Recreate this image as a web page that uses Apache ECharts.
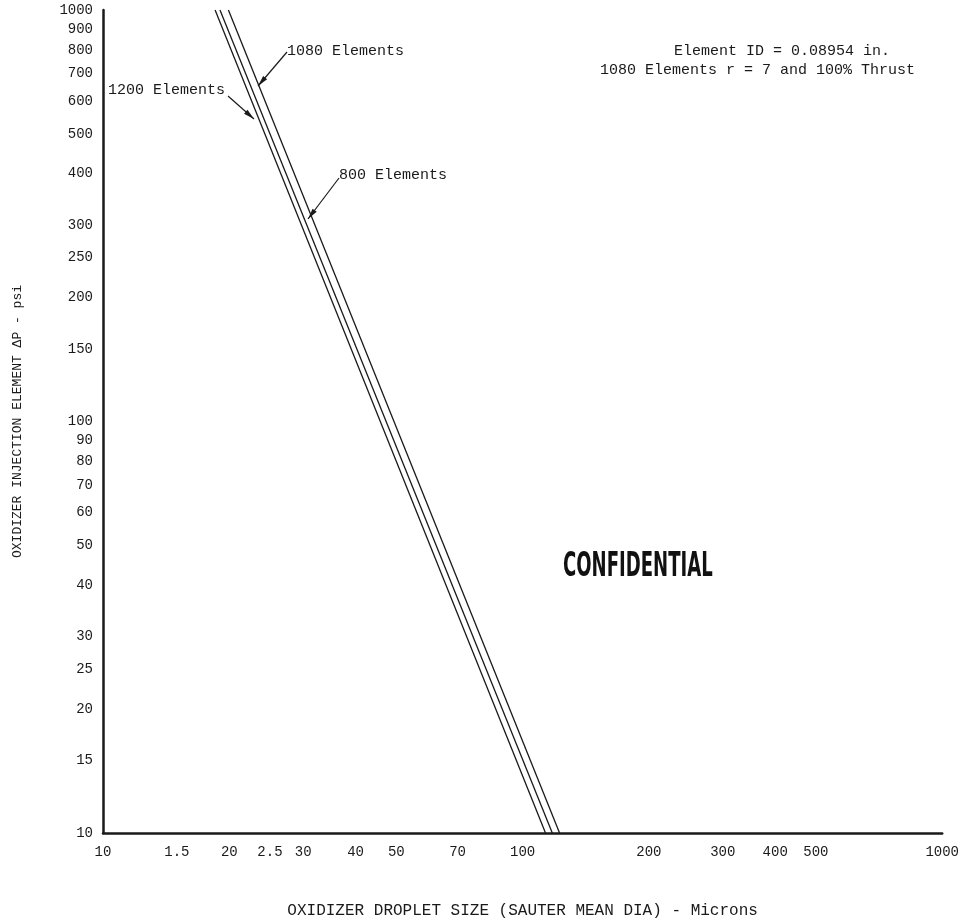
<!DOCTYPE html>
<html>
<head>
<meta charset="utf-8">
<script src="https://cdn.jsdelivr.net/npm/echarts@6/dist/echarts.min.js"></script>
<style>
html,body{margin:0;padding:0;background:#fff;}
#chart{width:962px;height:924px;}
</style>
</head>
<body>
<div id="chart"></div>
<script>
// ---- data ----
const pressurePsi = [1000, 10];            // y values at the two ends of each line
const size1200 = [18.5, 113.4];            // droplet size (microns) for 1200 elements
const size1080 = [19.0, 117.7];            // 1080 elements
const size800  = [19.9, 122.5];            // 800 elements

const xTickValues = [10, 15, 20, 25, 30, 40, 50, 70, 100, 200, 300, 400, 500, 1000];
const xTickLabels = ['10', '1.5', '20', '2.5', '30', '40', '50', '70', '100', '200', '300', '400', '500', '1000'];
const yTickValues = [10, 15, 20, 25, 30, 40, 50, 60, 70, 80, 90, 100, 150, 200, 250, 300, 400, 500, 600, 700, 800, 900, 1000];
const yTickLabels = ['10', '15', '20', '25', '30', '40', '50', '60', '70', '80', '90', '100', '150', '200', '250', '300', '400', '500', '600', '700', '800', '900', '1000'];

const seriesNames = ['1200 Elements', '1080 Elements', '800 Elements'];
const seriesSizes = [size1200, size1080, size800];

const FONT = '"Liberation Mono", "DejaVu Sans Mono", monospace';
const INK = '#1a1a1a';

function pairs(xs, ys) { return xs.map((x, i) => [x, ys[i]]); }

function arrow(x1, y1, x2, y2) {
  const dx = x2 - x1, dy = y2 - y1, L = Math.hypot(dx, dy);
  const ux = dx / L, uy = dy / L, px = -uy, py = ux;
  const len = 11, w = 2.6;
  const bx = x2 - ux * len, by = y2 - uy * len;
  return [
    { type: 'polyline', shape: { points: [[x1, y1], [x2, y2]] }, style: { stroke: INK, lineWidth: 1.2, fill: null }, silent: true },
    { type: 'polygon', shape: { points: [[x2, y2], [bx + px * w, by + py * w], [bx - px * w, by - py * w]] }, style: { fill: INK }, silent: true }
  ];
}

const chart = echarts.init(document.getElementById('chart'), null, { renderer: 'canvas' });

const option = {
  backgroundColor: '#ffffff',
  animation: false,
  grid: { left: 103, right: 19, top: 10, bottom: 80, containLabel: false },
  xAxis: {
    type: 'log', logBase: 10, min: 10, max: 1000,
    name: 'OXIDIZER DROPLET SIZE (SAUTER MEAN DIA) - Microns',
    nameLocation: 'middle', nameGap: 70,
    nameTextStyle: { fontFamily: FONT, fontSize: 16, color: INK },
    axisLine: { show: true, onZero: false, lineStyle: { color: INK, width: 2.5 } },
    axisTick: { show: false },
    splitLine: { show: false },
    minorTick: { show: false }, minorSplitLine: { show: false },
    axisLabel: {
      customValues: xTickValues,
      fontFamily: FONT, fontSize: 14, color: INK, margin: 12,
      formatter: v => { const i = xTickValues.findIndex(t => Math.abs(t - v) < 1e-6 * t); return i >= 0 ? xTickLabels[i] : ''; }
    }
  },
  yAxis: {
    type: 'log', logBase: 10, min: 10, max: 1000,
    name: 'OXIDIZER INJECTION ELEMENT \u0394P - psi',
    nameLocation: 'middle', nameGap: 79, nameRotate: 90,
    nameTextStyle: { fontFamily: FONT, fontSize: 13, color: INK },
    axisLine: { show: true, onZero: false, lineStyle: { color: INK, width: 2.5 } },
    axisTick: { show: false },
    splitLine: { show: false },
    minorTick: { show: false }, minorSplitLine: { show: false },
    axisLabel: {
      customValues: yTickValues,
      fontFamily: FONT, fontSize: 14, color: INK, margin: 10,
      formatter: v => { const i = yTickValues.findIndex(t => Math.abs(t - v) < 1e-6 * t); return i >= 0 ? yTickLabels[i] : ''; }
    }
  },
  series: seriesNames.map((name, k) => ({
    name: name,
    type: 'line',
    data: pairs(seriesSizes[k], pressurePsi),
    showSymbol: false,
    symbol: 'none',
    clip: false,
    lineStyle: { color: INK, width: 1.3 },
    silent: true
  })),
  graphic: [
    { type: 'text', left: 287, top: 44, style: { text: '1080 Elements', font: '15px ' + FONT, fill: INK } },
    ...arrow(287, 52, 258, 86),
    { type: 'text', left: 108, top: 83, style: { text: '1200 Elements', font: '15px ' + FONT, fill: INK } },
    ...arrow(228, 96, 254, 119),
    { type: 'text', left: 339, top: 168, style: { text: '800 Elements', font: '15px ' + FONT, fill: INK } },
    ...arrow(339, 178, 308, 219),
    { type: 'text', left: 674, top: 44, style: { text: 'Element ID = 0.08954 in.', font: '15px ' + FONT, fill: INK } },
    { type: 'text', left: 600, top: 63, style: { text: '1080 Elements r = 7 and 100% Thrust', font: '15px ' + FONT, fill: INK } },
    { type: 'text', left: 563, top: 550, scaleX: 0.59, style: { text: 'CONFIDENTIAL', font: 'bold 34px "DejaVu Sans Condensed", "DejaVu Sans", sans-serif', fill: '#111' } }
  ]
};

chart.setOption(option);
</script>
</body>
</html>
